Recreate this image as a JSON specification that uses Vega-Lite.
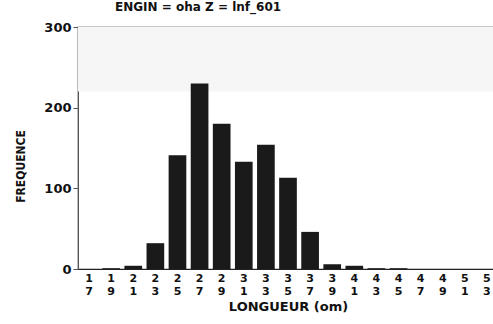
{
  "$schema": "https://vega.github.io/schema/vega-lite/v6.json",
  "autosize": {"type": "none"},
  "width": 420,
  "height": 242,
  "padding": {"left": 78, "top": 27, "right": 0, "bottom": 55},
  "background": "white",
  "config": {"view": {"stroke": "#222", "strokeWidth": 1.2}, "font": "DejaVu Sans"},
  "title": {"text": "ENGIN = oha Z = lnf_601", "anchor": "start", "frame": "group", "dx": 37, "offset": 7, "fontSize": 12, "fontWeight": "bold", "font": "DejaVu Sans", "color": "#111"},
  "layer": [
    {
      "data": {"values": [{"lo": 220, "hi": 300}]},
      "mark": {"type": "rect", "color": "#f6f6f6"},
      "encoding": {
        "y": {"field": "lo", "type": "quantitative", "scale": {"domain": [0, 300]}},
        "y2": {"field": "hi"}
      }
    },
    {
      "data": {"values": [
        {"len": "17", "freq": 0}, {"len": "19", "freq": 1}, {"len": "21", "freq": 4},
        {"len": "23", "freq": 32}, {"len": "25", "freq": 141}, {"len": "27", "freq": 230},
        {"len": "29", "freq": 180}, {"len": "31", "freq": 133}, {"len": "33", "freq": 154},
        {"len": "35", "freq": 113}, {"len": "37", "freq": 46}, {"len": "39", "freq": 6},
        {"len": "41", "freq": 4}, {"len": "43", "freq": 1}, {"len": "45", "freq": 1},
        {"len": "47", "freq": 0}, {"len": "49", "freq": 0}, {"len": "51", "freq": 0},
        {"len": "53", "freq": 0}
      ]},
      "mark": {"type": "bar", "color": "#1a1a1a"},
      "encoding": {
        "x": {"field": "len", "type": "ordinal", "sort": null,
          "scale": {"paddingInner": 0.2, "paddingOuter": 0.1},
          "axis": {"title": "LONGUEUR (om)", "titleFontSize": 13, "titleFontWeight": "bold", "titleColor": "#111", "titlePadding": 4,
            "labelExpr": "split(datum.label, '')", "labelFontSize": 11, "labelFontWeight": "bold", "labelColor": "#111", "labelLineHeight": 13, "labelAngle": 0, "labelPadding": 3,
            "ticks": false, "domainColor": "#222", "domainWidth": 1.2}},
        "y": {"field": "freq", "type": "quantitative", "scale": {"domain": [0, 300]},
          "axis": {"values": [0, 100, 200, 300], "title": "FREQUENCE", "titleFont": "DejaVu Sans Condensed", "titleFontSize": 12, "titleFontWeight": "bold", "titleColor": "#111", "titlePadding": 16, "titleY": 139,
            "labelFontSize": 13, "labelFontWeight": "bold", "labelColor": "#111", "tickSize": 5, "tickColor": "#555", "domainColor": "#555", "grid": false}}
      }
    }
  ]
}
